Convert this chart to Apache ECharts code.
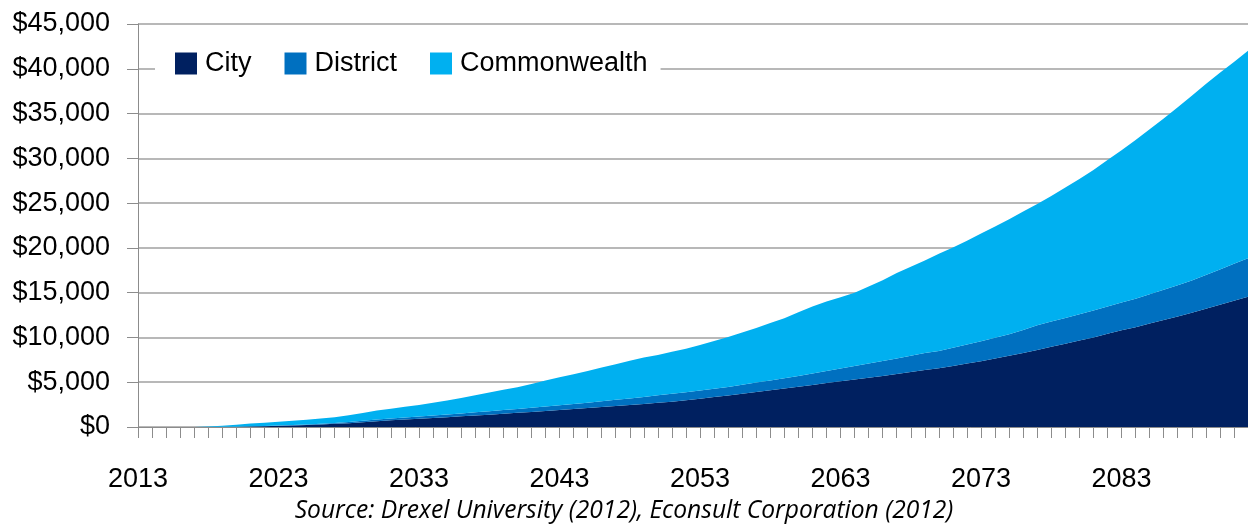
<!DOCTYPE html>
<html>
<head>
<meta charset="utf-8">
<style>
  html, body { margin: 0; padding: 0; background: #ffffff; }
  #chart { width: 1248px; height: 525px; }
</style>
<script src="https://cdn.jsdelivr.net/npm/echarts@6/dist/echarts.min.js"></script>
</head>
<body>
<div id="chart"></div>
<script>
// Fiscal years shown on the horizontal axis
const years = [];
for (let y = 2013; y <= 2092; y++) years.push(String(y));

// Annual amounts by level of government (stacked)
const city = [
  0, 0, 0, 0, 0, 0, 10, 30, 60, 90,
  130, 170, 220, 280, 350, 430, 530, 640, 740, 830,
  920, 1010, 1100, 1190, 1280, 1380, 1480, 1580, 1680, 1790,
  1900, 2010, 2120, 2230, 2340, 2450, 2570, 2700, 2830, 2990,
  3160, 3340, 3530, 3720, 3910, 4100, 4300, 4500, 4700, 4900,
  5100, 5300, 5500, 5700, 5920, 6140, 6370, 6550, 6800, 7080,
  7350, 7650, 7950, 8250, 8600, 8950, 9300, 9650, 10000, 10400,
  10800, 11150, 11550, 11950, 12350, 12750, 13200, 13650, 14100, 14550
];
const district = [
  0, 0, 0, 0, 0, 0, 5, 10, 15, 25,
  40, 50, 70, 90, 110, 130, 160, 190, 210, 230,
  250, 280, 300, 330, 360, 390, 410, 440, 470, 500,
  530, 560, 600, 640, 690, 740, 790, 850, 870, 890,
  910, 930, 950, 1000, 1050, 1100, 1150, 1200, 1280, 1360,
  1440, 1520, 1600, 1670, 1740, 1810, 1880, 1950, 2040, 2130,
  2220, 2310, 2400, 2570, 2750, 2820, 2880, 2950, 3000, 3060,
  3110, 3170, 3280, 3380, 3490, 3600, 3770, 3950, 4120, 4300
];
const commonwealth = [
  0, 0, 0, 0, 0, 50, 135, 210, 305, 365,
  430, 480, 530, 580, 640, 740, 860, 1020, 1100, 1190,
  1280, 1410, 1550, 1730, 1910, 2080, 2260, 2430, 2650, 2910,
  3120, 3330, 3530, 3780, 3970, 4210, 4390, 4500, 4700, 4870,
  5080, 5330, 5570, 5830, 6090, 6400, 6700, 7100, 7470, 7740,
  7960, 8180, 8600, 9030, 9540, 9950, 10350, 10850, 11210, 11590,
  12030, 12440, 12850, 13230, 13550, 14030, 14570, 15100, 15700, 16340,
  16990, 17730, 18420, 19120, 19860, 20650, 21330, 21950, 22530, 23150
];

const seriesNames = ['City', 'District', 'Commonwealth'];
const seriesColors = ['#002060', '#0070C0', '#00B0F0'];
const sourceNote = 'Source: Drexel University (2012), Econsult Corporation (2012)';

const FONT = '"Liberation Sans", Arial, sans-serif';

const chart = echarts.init(document.getElementById('chart'), null, { renderer: 'canvas' });

function areaSeries(name, data, color) {
  return {
    name: name,
    type: 'line',
    stack: 'total',
    data: data,
    symbol: 'none',
    showSymbol: false,
    lineStyle: { width: 0 },
    areaStyle: { color: color, opacity: 1 },
    itemStyle: { color: color },
    emphasis: { disabled: true },
    animation: false
  };
}

chart.setOption({
  animation: false,
  backgroundColor: '#ffffff',
  color: seriesColors,
  grid: { left: 138, right: 0, top: 24, bottom: 98, containLabel: false },
  legend: {
    data: seriesNames,
    left: 155,
    top: 38,
    orient: 'horizontal',
    icon: 'rect',
    itemWidth: 22,
    itemHeight: 22,
    itemGap: 33,
    padding: [12, 13, 12, 20],
    backgroundColor: '#ffffff',
    selectedMode: false,
    textStyle: {
      fontFamily: FONT,
      fontSize: 27,
      color: '#000000',
      padding: [0, 0, 0, 3]
    }
  },
  xAxis: {
    type: 'category',
    data: years,
    boundaryGap: false,
    axisLine: { show: true, lineStyle: { color: '#8c8c8c', width: 1 } },
    axisTick: { show: true, interval: 0, length: 11, lineStyle: { color: '#8c8c8c' } },
    axisLabel: {
      interval: 9,
      margin: 39,
      fontFamily: FONT,
      fontSize: 27,
      color: '#000000'
    },
    splitLine: { show: false }
  },
  yAxis: {
    type: 'value',
    min: 0,
    max: 45000,
    interval: 5000,
    axisLine: { show: true, lineStyle: { color: '#8c8c8c', width: 1 } },
    axisTick: { show: true, length: 11, lineStyle: { color: '#8c8c8c' } },
    axisLabel: {
      margin: 28,
      fontFamily: FONT,
      fontSize: 27,
      color: '#000000',
      formatter: v => '$' + v.toLocaleString('en-US')
    },
    splitLine: { show: true, lineStyle: { color: '#a0a0a0', width: 1.5 } }
  },
  graphic: [{
    type: 'text',
    left: 'center',
    top: 498,
    style: {
      text: sourceNote,
      fontFamily: '"Open Sans", sans-serif',
      fontStyle: 'italic',
      fontSize: 24.6,
      fill: '#000000'
    }
  }],
  series: [
    areaSeries(seriesNames[0], city, seriesColors[0]),
    areaSeries(seriesNames[1], district, seriesColors[1]),
    areaSeries(seriesNames[2], commonwealth, seriesColors[2])
  ]
});
</script>
</body>
</html>
